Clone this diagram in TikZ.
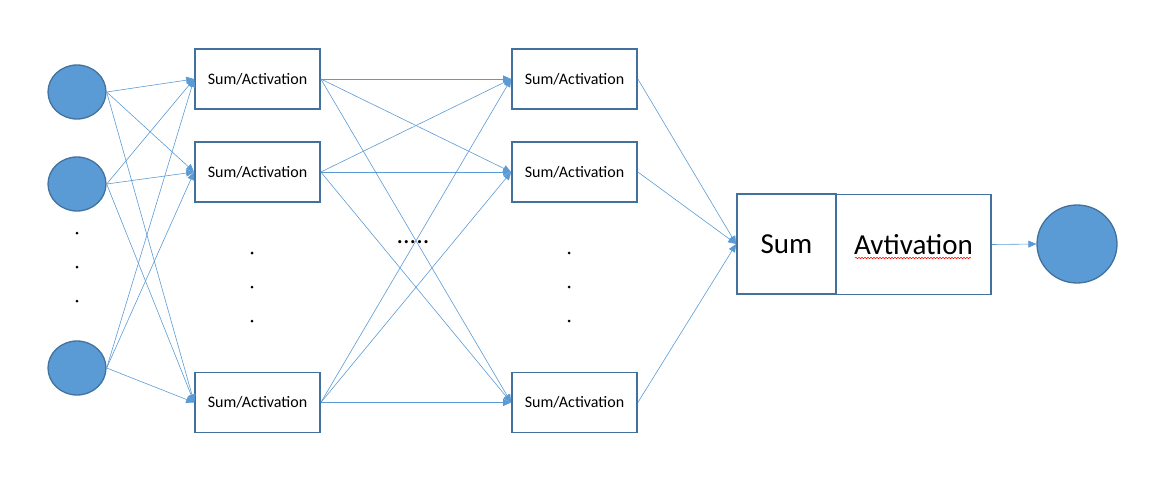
\documentclass[tikz,border=0pt]{standalone}
\usepackage{fontspec}
\setmainfont{Carlito}
\usetikzlibrary{shapes.geometric,arrows.meta,decorations.pathmorphing}
\definecolor{fillblue}{HTML}{5B9BD5}
\definecolor{lineblue}{HTML}{41719C}

\begin{document}
\begin{tikzpicture}[x=1pt,y=-1pt,
    neuron/.style={ellipse,draw=lineblue,fill=fillblue,line width=1.3pt,
      minimum width=58pt,minimum height=54pt,inner sep=0pt},
    unit/.style={rectangle,draw=lineblue,line width=1.7pt,
      minimum width=125pt,minimum height=60pt,font=\fontsize{16}{18}\selectfont},
    bigunit/.style={rectangle,draw=lineblue,line width=1.7pt,
      minimum height=100pt,font=\fontsize{29}{32}\selectfont},
    link/.style={draw=fillblue,line width=0.6pt,-{Triangle[length=8pt,width=7pt]}}]
    \useasboundingbox (0,0) rectangle (1167,479);
    % inputs
    \node[neuron] (in1) at (77,92) {};
    \node[neuron] (in2) at (77,184) {};
    \node[neuron] (in3) at (77,368) {};
    % hidden layers
    \foreach \n/\y in {1/79,2/172,3/402.5} {
      \node[unit] (a\n) at (257.5,\y) {Sum/Activation};
      \node[unit] (b\n) at (574.5,\y) {Sum/Activation};
    }
    % output unit
    \node[bigunit,minimum width=99pt] (sum) at (786.5,244) {Sum};
    \node[bigunit,minimum width=155pt] (act) at (913.5,244.5) {Avtivation};
    \node[neuron,minimum width=80pt,minimum height=78pt] (out) at (1077,244) {};
    \draw[red,line width=0.5pt,decorate,decoration={snake,amplitude=0.8pt,segment length=3pt}]
      (855,258) -- (971,258);
    % links
    \foreach \i in {1,2,3}
      \foreach \j in {1,2,3} {
        \draw[link] (in\i.east) -- (a\j.west);
        \draw[link] (a\i.east) -- (b\j.west);
      }
    \foreach \j in {1,2,3}
      \draw[link] (b\j.east) -- (sum.west);
    \draw[link] (act.east) -- (out.west);
    % dots
    \foreach \y in {233,267,301}
      \fill (77,\y) circle (1.5pt);
    \foreach \y in {253,287,321} {
      \fill (252,\y) circle (1.5pt);
      \fill (569,\y) circle (1.5pt);
    }
    \node[font=\fontsize{26}{28}\selectfont,anchor=base,inner sep=0pt] (gap) at (413,243) {.....};
\end{tikzpicture}
\end{document}
